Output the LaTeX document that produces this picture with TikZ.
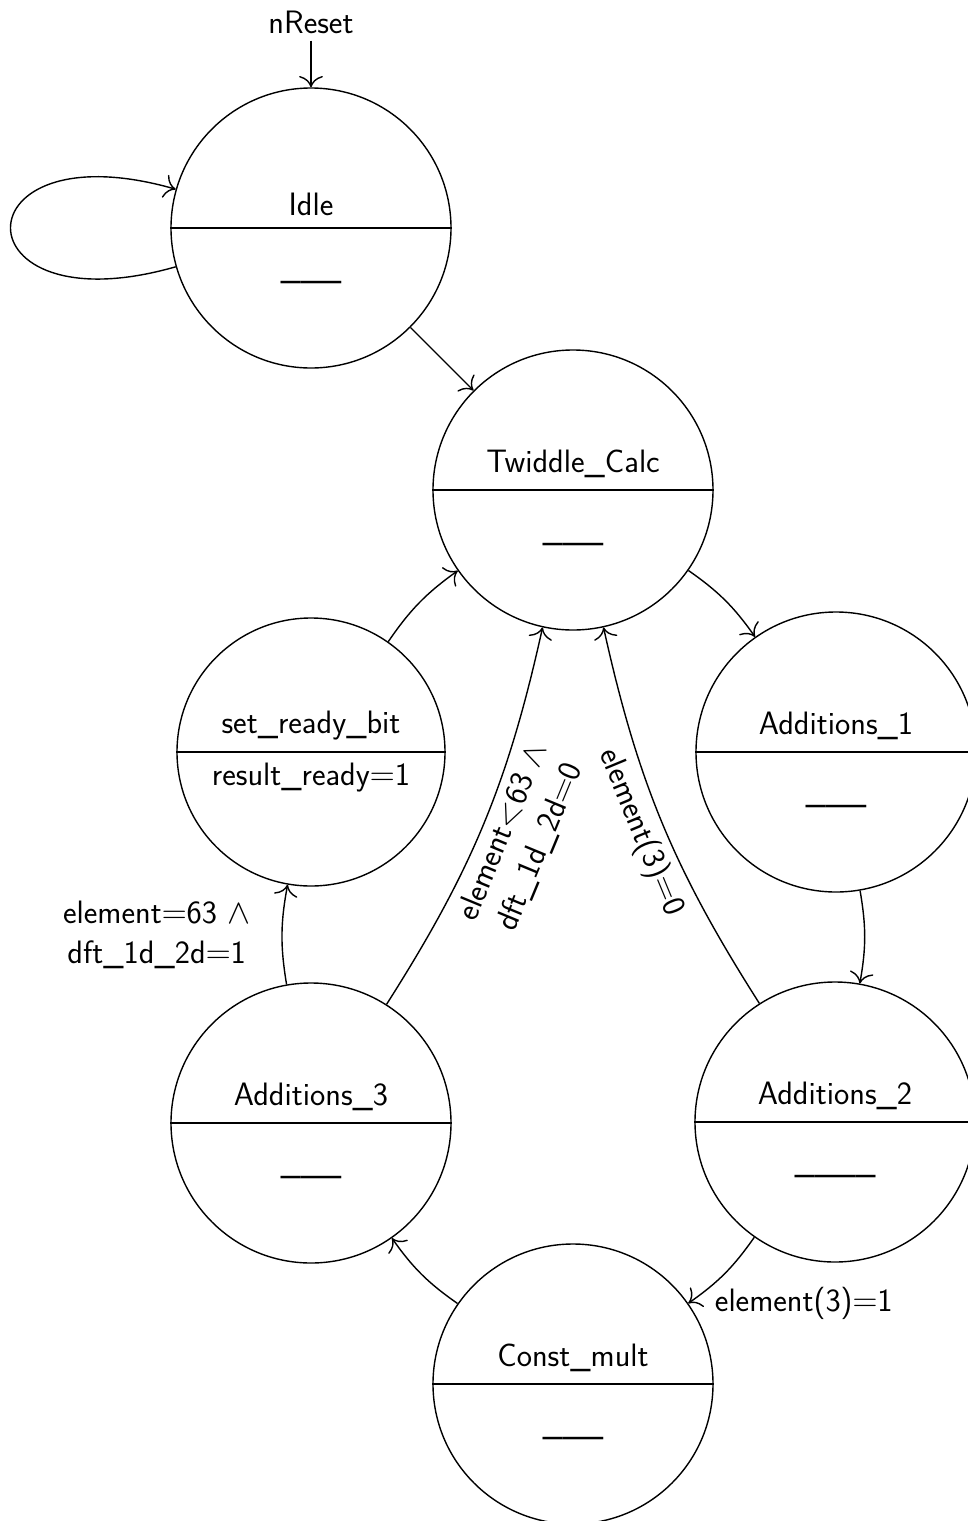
\documentclass[tikz,border=0pt]{standalone}
\usetikzlibrary{arrows.meta}
\begin{document}
\begin{tikzpicture}[x=0.5pt,y=0.5pt,line width=0.7pt,
  font=\sffamily\fontsize{16.2}{20}\selectfont,
  fsm/.style={circle, draw, inner sep=0pt, minimum size=140pt},
  fsmsmall/.style={circle, draw, inner sep=0pt, minimum size=134pt},
  title/.style={anchor=south, inner sep=0pt, yshift=5.6pt},
  body/.style={anchor=base, inner sep=0pt, yshift=-25pt},
  bodytext/.style={anchor=base, inner sep=0pt, yshift=-16.5pt},
  trans/.style={-{Computer Modern Rightarrow[scale=1.8]}}]
\useasboundingbox (0,0) rectangle (968,-1521);

% states
\node[fsm] (idle) at (311,-228) {};
\node[fsm] (twiddle) at (573,-490) {};
\node[fsm] (add1) at (836,-752) {};
\node[fsmsmall] (ready) at (311,-752) {};
\node[fsm] (add3) at (311,-1123) {};
\node[fsm] (add2) at (835,-1122) {};
\node[fsm] (const) at (573,-1384) {};

% split lines
\foreach \s in {idle,twiddle,add1,ready,add3,add2,const}
  \draw (\s.west) -- (\s.east);

% titles
\node[title] (idleT) at (idle.center) {Idle};
\node[title] (twiddleT) at (twiddle.center) {Twiddle\_Calc};
\node[title] (add1T) at (add1.center) {Additions\_1};
\node[title] (readyT) at (ready.center) {set\_ready\_bit};
\node[title] (add3T) at (add3.center) {Additions\_3};
\node[title] (add2T) at (add2.center) {Additions\_2};
\node[title] (constT) at (const.center) {Const\_mult};

% outputs
\node[body] (idleB) at (idle.center) {\_\_\_};
\node[body] (twiddleB) at (twiddle.center) {\_\_\_};
\node[body] (add1B) at (add1.center) {\_\_\_};
\node[bodytext] (readyB) at (ready.center) {result\_ready$=$1};
\node[body] (add3B) at (add3.center) {\_\_\_};
\node[body] (add2B) at (add2.center) {\_\_\_\_};
\node[body] (constB) at (const.center) {\_\_\_};

% reset
\node[anchor=base] (nreset) at (311,-33) {nReset};
\draw[trans] (nreset) -- (idle);

% transitions
\draw[trans] (idle.196) .. controls +(196:229) and +(164:229) .. (idle.164);
\draw[trans] (idle) -- (twiddle);
\draw[trans] (twiddle) to[bend left=10] (add1);
\draw[trans] (add1) to[bend left=10] (add2);
\draw[trans] (add2) to[bend left=10]
  node[pos=1, anchor=west, inner sep=0pt, xshift=13pt] (l4) {element(3)$=$1} (const);
\draw[trans] (const) to[bend left=10] (add3);
\draw[trans] (add3) to[bend left=10]
  node[midway, anchor=east, inner sep=0pt, xshift=-15.5pt, align=center] (l1)
  {element$=$63 $\wedge$\\dft\_1d\_2d$=$1} (ready);
\draw[trans] (ready) to[bend left=10] (twiddle);
\draw[trans] (add3) to[bend right=10]
  node[midway, sloped, below, align=center] (l2)
  {element$<$63 $\wedge$\\dft\_1d\_2d$=$0} (twiddle);
\draw[trans] (add2) to[bend left=10]
  node[midway, sloped, below] (l3) {element(3)$=$0} (twiddle);
\end{tikzpicture}
\end{document}
